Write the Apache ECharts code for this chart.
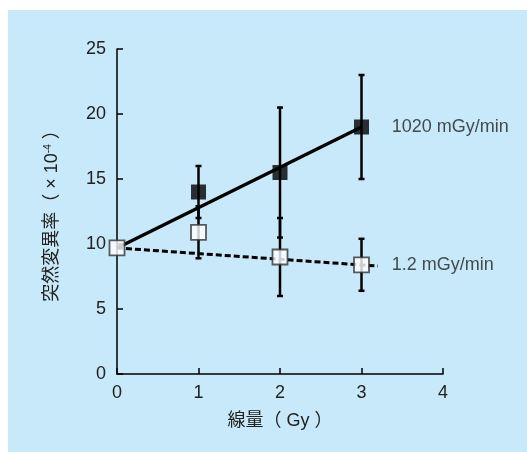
<!DOCTYPE html>
<html>
<head>
<meta charset="utf-8">
<script src="https://cdn.jsdelivr.net/npm/echarts@6/dist/echarts.min.js"></script>
<style>
html,body{margin:0;padding:0;background:#fff;}
#bg{position:absolute;left:8px;top:10px;width:519px;height:442px;background:#c7e9f9;}
#chart{position:absolute;left:0;top:0;width:527px;height:452px;}
</style>
</head>
<body>
<div id="bg"></div>
<div id="chart"></div>
<script>
// ---- data ----
var doses = [0, 1, 2, 3];
var highMean = [null, 14.0, 15.5, 19.0];
var highErr  = [null, 2.0, 5.0, 4.0];
var lowMean  = [9.7, 10.9, 9.0, 8.4];
var lowErr   = [null, 2.0, 3.0, 2.0];
var highFit  = [[0, 9.7], [3, 19.0]];
var lowFit   = [[0, 9.7], [3.2, 8.3]];
var seriesNames = ['1020 mGy/min', '1.2 mGy/min'];
var labelAnchors = [[3.37, 19.0], [3.37, 8.4]];
var xTicks = [0, 1, 2, 3, 4];
var yTicks = [0, 5, 10, 15, 20, 25];

var FONT = '"Liberation Sans", Arial, "Noto Sans CJK JP", sans-serif';
var CJK = '"Liberation Sans", "Noto Sans CJK JP", sans-serif';
var TXT = '#222';

function pts(means) {
  var out = [];
  for (var i = 0; i < doses.length; i++) if (means[i] != null) out.push([doses[i], means[i]]);
  return out;
}
function errs(means, e) {
  var out = [];
  for (var i = 0; i < doses.length; i++) if (means[i] != null && e[i] != null) out.push([doses[i], means[i] - e[i], means[i] + e[i]]);
  return out;
}
function errRender(params, api) {
  var x = api.value(0);
  var lo = api.coord([x, api.value(1)]);
  var hi = api.coord([x, api.value(2)]);
  var hw = 3;
  var st = {stroke: '#000', lineWidth: 2.5};
  return {type: 'group', children: [
    {type: 'line', shape: {x1: lo[0], y1: lo[1], x2: hi[0], y2: hi[1]}, style: st},
    {type: 'line', shape: {x1: lo[0] - hw, y1: lo[1], x2: lo[0] + hw, y2: lo[1]}, style: st},
    {type: 'line', shape: {x1: hi[0] - hw, y1: hi[1], x2: hi[0] + hw, y2: hi[1]}, style: st}
  ]};
}

var chart = echarts.init(document.getElementById('chart'));
chart.setOption({
  backgroundColor: 'transparent',
  animation: false,
  grid: {left: 117, right: 84, top: 49, bottom: 78},
  xAxis: {
    type: 'value', min: 0, max: 4, interval: 1,
    name: '線量（ Gy ）', nameLocation: 'middle', nameGap: 38,
    nameTextStyle: {color: TXT, fontSize: 18, fontFamily: CJK},
    axisLine: {lineStyle: {color: '#000', width: 1.5}},
    axisTick: {inside: true, length: 6, lineStyle: {color: '#000', width: 1.5}},
    axisLabel: {color: TXT, fontSize: 18, fontFamily: FONT, margin: 10,
      formatter: function (v) { return xTicks.indexOf(v) >= 0 ? String(v) : ''; }},
    splitLine: {show: false}
  },
  yAxis: {
    type: 'value', min: 0, max: 25, interval: 5,
    name: '突然変異率（ × 10{sup|-4} ）', nameLocation: 'middle', nameGap: 56, nameRotate: 90,
    nameTextStyle: {color: TXT, fontSize: 18, fontFamily: CJK,
      rich: {sup: {fontSize: 10, verticalAlign: 'top', color: TXT, fontFamily: FONT, padding: [0, 0, 8, 0]}}},
    axisLine: {lineStyle: {color: '#000', width: 1.5}},
    axisTick: {inside: true, length: 6, lineStyle: {color: '#000', width: 1.5}},
    axisLabel: {color: TXT, fontSize: 18, fontFamily: FONT, margin: 11,
      formatter: function (v) { return yTicks.indexOf(v) >= 0 ? String(v) : ''; }},
    splitLine: {show: false}
  },
  series: [
    {type: 'custom', renderItem: errRender, data: errs(lowMean, lowErr), z: 2, encode: {x: 0, y: [1, 2]}},
    {type: 'custom', renderItem: errRender, data: errs(highMean, highErr), z: 2, encode: {x: 0, y: [1, 2]}},
    {type: 'line', data: lowFit, symbol: 'none', z: 3,
      lineStyle: {color: '#000', width: 3, type: [6, 3]}},
    {type: 'line', data: highFit, symbol: 'none', z: 3,
      lineStyle: {color: '#000', width: 3.3}},
    {type: 'scatter', data: pts(lowMean), symbol: 'rect', symbolSize: 15, z: 4,
      itemStyle: {color: '#fff', borderColor: '#333', borderWidth: 1.8}},
    {type: 'scatter', data: pts(highMean), symbol: 'rect', symbolSize: 15, z: 4,
      itemStyle: {color: '#000'}},
    {type: 'scatter', symbolSize: 0, z: 5, silent: true,
      data: labelAnchors.map(function (a, i) { return {value: a, name: seriesNames[i]}; }),
      label: {show: true, position: 'right', distance: 0, formatter: '{b}',
        color: TXT, fontSize: 18, fontFamily: FONT}}
  ]
});
</script>
</body>
</html>
